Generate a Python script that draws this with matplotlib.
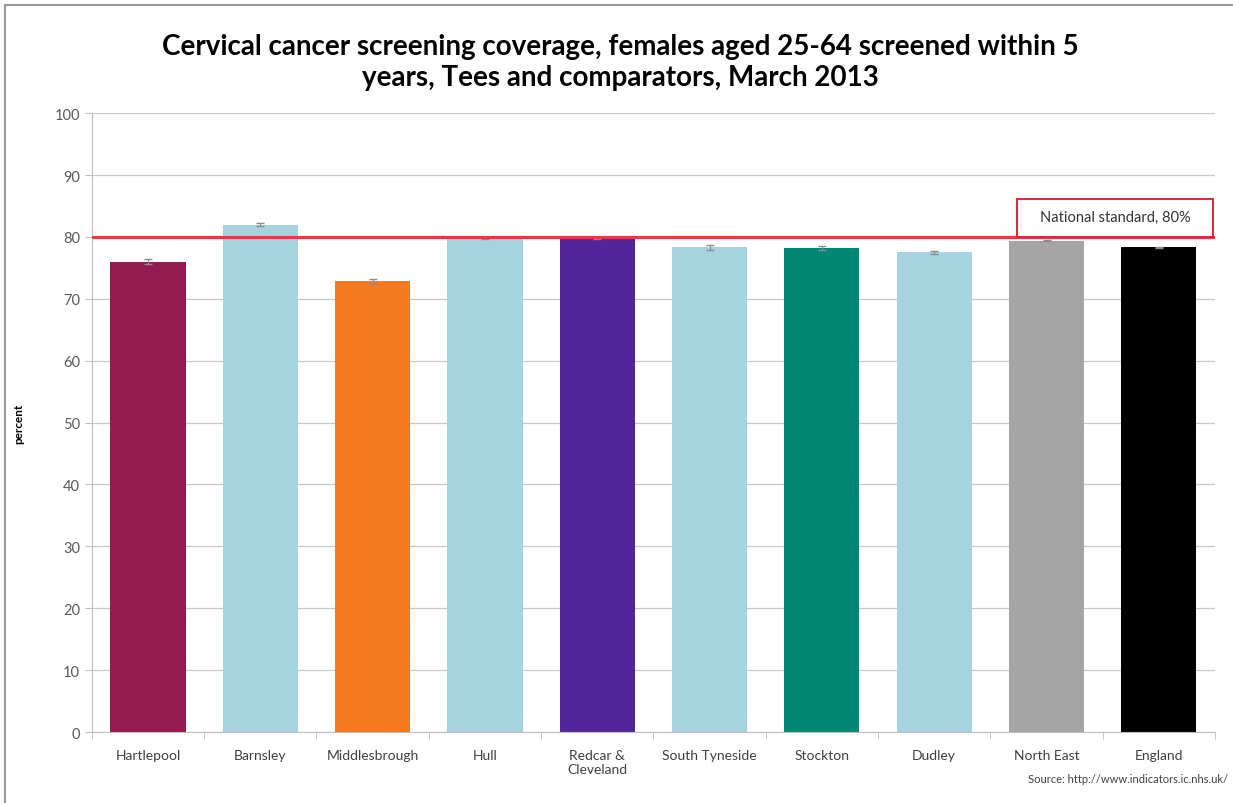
import matplotlib.pyplot as plt
from matplotlib.patches import Rectangle

# Data
areas = ['Hartlepool', 'Barnsley', 'Middlesbrough', 'Hull', 'Redcar &\nCleveland',
         'South Tyneside', 'Stockton', 'Dudley', 'North East', 'England']
coverage = [76.0, 82.0, 72.9, 79.8, 79.8, 78.3, 78.2, 77.5, 79.4, 78.3]
err = [0.4, 0.3, 0.3, 0.2, 0.2, 0.4, 0.3, 0.3, 0.1, 0.05]
colors = ['#951a50', '#a6d3e0', '#f47920', '#a6d3e0', '#53259a',
          '#a6d3e0', '#008673', '#a6d3e0', '#a5a5a5', '#000000']
standard = 80

plt.rcParams['font.family'] = ['Lato', 'DejaVu Sans']

fig = plt.figure(figsize=(12.33, 8.04), dpi=100)
ax = fig.add_axes([0.0744, 0.0883, 0.911, 0.7697])

x = range(len(areas))
ax.bar(x, coverage, width=0.67, color=colors, zorder=2)
ax.errorbar(x, coverage, yerr=err, fmt='none', ecolor='#8c8c8c',
            elinewidth=0.8, capsize=3, zorder=3)

ax.axhline(standard, color='#e8393f', lw=2.2, zorder=4)
# label box sits on top of the standard line
ax.add_patch(Rectangle((7.74, standard), 1.74, 6.1, fc='white', ec='#d62b33',
                       lw=1.4, zorder=5))
ax.text(8.61, 83.2, 'National standard, 80%', ha='center', va='center',
        fontsize=10.5, color='#333333', zorder=6)

ax.set_xlim(-0.5, len(areas) - 0.5)
ax.set_ylim(0, 100)
ax.set_yticks(range(0, 101, 10))
ax.set_xticks(list(x))
ax.set_xticklabels(areas, fontsize=10, color='#404040')
ax.tick_params(axis='y', labelsize=10.5, labelcolor='#595959', length=5,
               color='#bfbfbf')
ax.set_xticks([i + 0.5 for i in range(-1, len(areas))], minor=True)
ax.tick_params(axis='x', which='minor', length=6, color='#bfbfbf')
ax.tick_params(axis='x', which='major', length=0, pad=12)
ax.grid(axis='y', color='#c8c8c8', lw=0.9, zorder=0)
for s in ['top', 'right']:
    ax.spines[s].set_visible(False)
ax.spines['left'].set_color('#bfbfbf')
ax.spines['bottom'].set_color('#bfbfbf')

ax.set_ylabel('percent', fontsize=8.5, fontweight='bold', labelpad=22)

fig.text(0.503, 0.922, 'Cervical cancer screening coverage, females aged 25-64 screened within 5\n'
         'years, Tees and comparators, March 2013', ha='center', va='center',
         fontsize=20, fontweight='bold', linespacing=1.25)
fig.text(0.996, 0.03, 'Source: http://www.indicators.ic.nhs.uk/', ha='right',
         va='center', fontsize=8, color='#404040')

fig.add_artist(Rectangle((0.004, -0.01), 0.999, 1.003, transform=fig.transFigure,
                         fill=False, ec='#999999', lw=1.5))

fig.savefig('out.png', dpi=100)
